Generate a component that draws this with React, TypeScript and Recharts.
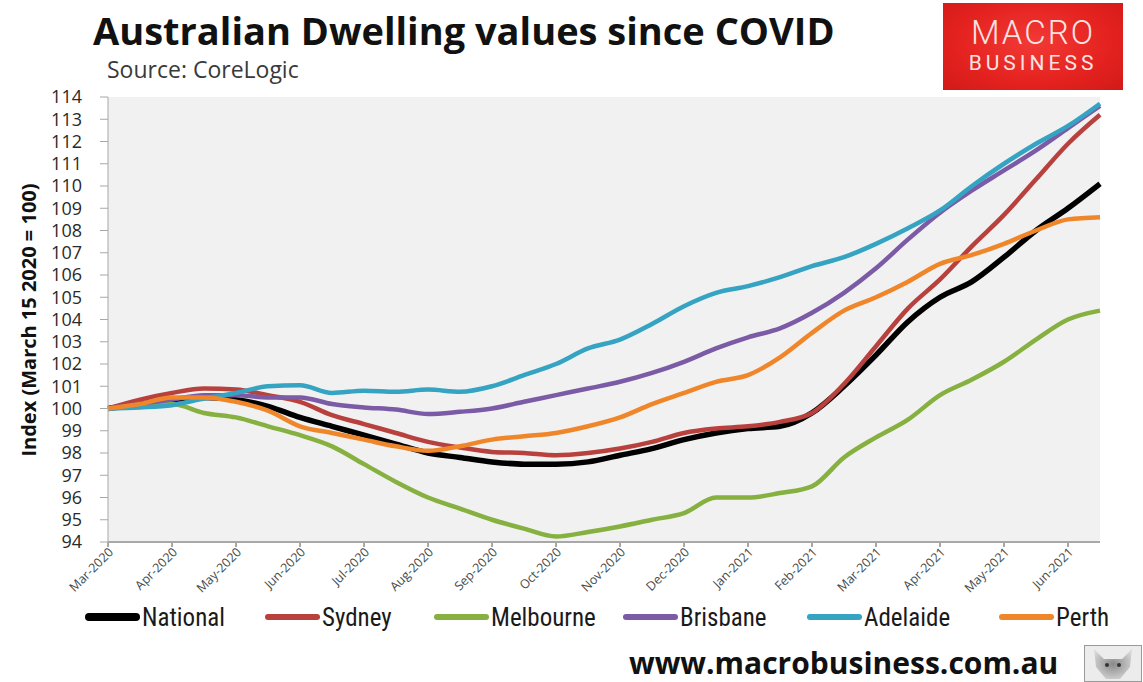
import React from 'react';
import { LineChart, Line, XAxis, YAxis, CartesianGrid } from 'recharts';

// months since Mar-2020, sampled twice a month
const T = [
  0, 0.5, 1, 1.5, 2, 2.5, 3, 3.5, 4, 4.5, 5, 5.5, 6, 6.5, 7, 7.5,
  8, 8.5, 9, 9.5, 10, 10.5, 11, 11.5, 12, 12.5, 13, 13.5, 14, 14.5, 15, 15.5,
];

const MONTH_LABELS = [
  'Mar-2020', 'Apr-2020', 'May-2020', 'Jun-2020', 'Jul-2020', 'Aug-2020', 'Sep-2020', 'Oct-2020',
  'Nov-2020', 'Dec-2020', 'Jan-2021', 'Feb-2021', 'Mar-2021', 'Apr-2021', 'May-2021', 'Jun-2021',
];

const Y_TICKS = [94, 95, 96, 97, 98, 99, 100, 101, 102, 103, 104, 105, 106, 107, 108, 109, 110, 111, 112, 113, 114];

const national = [
  100, 100.2, 100.4, 100.5, 100.4, 100.1, 99.6, 99.2, 98.8, 98.4, 98.0, 97.8, 97.6, 97.5, 97.5, 97.6,
  97.9, 98.2, 98.6, 98.9, 99.1, 99.2, 99.8, 101.0, 102.4, 103.9, 105.0, 105.7, 106.8, 108.0, 109.0, 110.1,
];
const sydney = [
  100, 100.4, 100.7, 100.9, 100.85, 100.6, 100.3, 99.7, 99.3, 98.9, 98.5, 98.25, 98.05, 98.0, 97.9, 98.0,
  98.2, 98.5, 98.9, 99.1, 99.2, 99.4, 99.8, 101.1, 102.8, 104.5, 105.8, 107.3, 108.7, 110.3, 111.9, 113.2,
];
const melbourne = [
  100, 100.1, 100.2, 99.8, 99.6, 99.2, 98.8, 98.3, 97.5, 96.7, 96.0, 95.5, 95.0, 94.6, 94.25, 94.45,
  94.7, 95.0, 95.3, 96.0, 96.0, 96.2, 96.5, 97.8, 98.7, 99.5, 100.6, 101.3, 102.1, 103.1, 104.0, 104.4,
];
const brisbane = [
  100, 100.2, 100.4, 100.6, 100.6, 100.5, 100.5, 100.2, 100.05, 99.95, 99.75, 99.85, 100.0, 100.3, 100.6, 100.9,
  101.2, 101.6, 102.1, 102.7, 103.2, 103.6, 104.3, 105.2, 106.3, 107.6, 108.8, 109.8, 110.7, 111.6, 112.6, 113.6,
];
const adelaide = [
  100, 100.05, 100.15, 100.45, 100.7, 101.0, 101.05, 100.7, 100.8, 100.75, 100.85, 100.75, 101.0, 101.5, 102.0, 102.7,
  103.1, 103.8, 104.6, 105.2, 105.5, 105.9, 106.4, 106.8, 107.4, 108.1, 108.9, 110.0, 111.0, 111.9, 112.7, 113.7,
];
const perth = [
  100, 100.2, 100.5, 100.5, 100.3, 99.9, 99.2, 98.9, 98.6, 98.3, 98.1, 98.3, 98.6, 98.75, 98.9, 99.2,
  99.6, 100.2, 100.7, 101.2, 101.5, 102.3, 103.4, 104.4, 105.0, 105.7, 106.5, 106.9, 107.4, 108.0, 108.5, 108.6,
];

const SERIES = [
  { key: 'National', values: national, color: '#000000', width: 5.5, keyX: 85 },
  { key: 'Sydney', values: sydney, color: '#b8413e', width: 4.5, keyX: 265 },
  { key: 'Melbourne', values: melbourne, color: '#86b03f', width: 4.5, keyX: 434 },
  { key: 'Brisbane', values: brisbane, color: '#7b5aa6', width: 4.5, keyX: 623 },
  { key: 'Adelaide', values: adelaide, color: '#35a3c2', width: 4.5, keyX: 807 },
  { key: 'Perth', values: perth, color: '#f0862a', width: 4.5, keyX: 999 },
];

const data = T.map((t, i) => {
  const row: Record<string, number> = { t };
  SERIES.forEach((s) => {
    row[s.key] = s.values[i];
  });
  return row;
});

const FONT = "'Open Sans', 'DejaVu Sans', sans-serif";
const NARROW = "'Liberation Sans Narrow', 'Roboto Condensed', Roboto, sans-serif";

const MonthTick = (props: any) => {
  const { x, y, payload } = props;
  return (
    <g transform={`translate(${x + 6},${y + 4})`}>
      <text transform="rotate(-45)" textAnchor="end" fontSize={12.5} fill="#4a4a4a" fontFamily={FONT}>
        {MONTH_LABELS[payload.value]}
      </text>
    </g>
  );
};

const Logo = () => (
  <div
    style={{
      position: 'absolute',
      left: 943,
      top: 3,
      width: 180,
      height: 87,
      background: 'radial-gradient(ellipse at 50% 45%, #f23a36 0%, #e4221f 60%, #d11a18 100%)',
      color: '#fbe3e2',
      fontFamily: "Roboto, 'DejaVu Sans', sans-serif",
      textAlign: 'center',
    }}
  >
    <div style={{ fontSize: 33, fontWeight: 300, letterSpacing: 2, marginTop: 12, lineHeight: '36px' }}>MACRO</div>
    <div style={{ fontSize: 21, fontWeight: 400, letterSpacing: 4, lineHeight: '25px' }}>BUSINESS</div>
  </div>
);

const Wolf = () => (
  <svg style={{ position: 'absolute', left: 1084, top: 645 }} width={58} height={37}>
    <defs>
      <radialGradient id="wolfFill" cx="50%" cy="50%" r="60%">
        <stop offset="0%" stopColor="#8a8a8a" />
        <stop offset="100%" stopColor="#d8d8d8" />
      </radialGradient>
    </defs>
    <rect x={0.5} y={0.5} width={57} height={36} fill="#ececec" stroke="#9a9a9a" />
    <path d="M10 4 L20 14 L38 14 L48 4 L46 22 L36 34 L22 34 L12 22 Z" fill="url(#wolfFill)" />
    <circle cx={23} cy={20} r={2} fill="#333" />
    <circle cx={35} cy={20} r={2} fill="#333" />
  </svg>
);

export default function App() {
  return (
    <div
      style={{
        position: 'absolute',
        left: 0,
        top: 0,
        width: 1143,
        height: 682,
        background: '#ffffff',
        overflow: 'hidden',
      }}
    >
      <div
        style={{
          position: 'absolute',
          left: 93,
          top: 5,
          fontFamily: FONT,
          fontWeight: 700,
          fontSize: 38,
          color: '#111',
          lineHeight: '50px',
          whiteSpace: 'nowrap',
        }}
      >
        Australian Dwelling values since COVID
      </div>
      <div
        style={{ position: 'absolute', left: 107, top: 55, fontFamily: FONT, fontSize: 23, color: '#3a3a3a', lineHeight: '28px' }}
      >
        Source: CoreLogic
      </div>
      <Logo />

      <LineChart
        width={1143}
        height={682}
        data={data}
        margin={{ top: 97, right: 43, bottom: 80, left: 0 }}
      >
        <CartesianGrid horizontal={false} vertical={false} fill="#f1f1f1" />
        <XAxis
          dataKey="t"
          type="number"
          domain={[0, 15.5]}
          ticks={MONTH_LABELS.map((_, i) => i)}
          tick={<MonthTick />}
          tickSize={5}
          height={60}
          stroke="#a8a8a8"
          strokeWidth={2}
          interval={0}
        />
        <YAxis
          type="number"
          domain={[94, 114]}
          ticks={Y_TICKS}
          interval={0}
          width={108}
          tickSize={8}
          tickMargin={18}
          stroke="#a8a8a8"
          tick={{ fontSize: 18, fill: '#2a2a2a', fontFamily: FONT }}
        />
        {SERIES.map((s) => (
          <Line
            key={s.key}
            dataKey={s.key}
            type="monotone"
            stroke={s.color}
            strokeWidth={s.width}
            dot={false}
            isAnimationActive={false}
          />
        ))}
      </LineChart>

      <div style={{ position: 'absolute', left: 28, top: 320, width: 0, height: 0 }}>
        <div
          style={{
            position: 'absolute',
            left: 0,
            top: 0,
            transform: 'translate(-50%, -50%) rotate(-90deg)',
            whiteSpace: 'nowrap',
            fontFamily: FONT,
            fontWeight: 700,
            fontSize: 20,
            color: '#111',
          }}
        >
          Index (March 15 2020 = 100)
        </div>
      </div>

      {/* series key */}
      {SERIES.map((s) => (
        <div
          key={s.key}
          style={{
            position: 'absolute',
            left: s.keyX,
            top: 600,
            height: 34,
            display: 'flex',
            alignItems: 'center',
            fontFamily: NARROW,
            fontSize: 25,
            color: '#1a1a1a',
            whiteSpace: 'nowrap',
          }}
        >
          <div
            style={{
              width: 55,
              height: s.key === 'National' ? 8 : 6,
              borderRadius: 4,
              background: s.color,
              marginRight: 2,
            }}
          />
          <span>{s.key}</span>
        </div>
      ))}

      <div
        style={{
          position: 'absolute',
          left: 629,
          top: 645,
          fontFamily: FONT,
          fontWeight: 700,
          fontSize: 30,
          color: '#111',
          lineHeight: '35px',
          whiteSpace: 'nowrap',
        }}
      >
        www.macrobusiness.com.au
      </div>
      <Wolf />
    </div>
  );
}
